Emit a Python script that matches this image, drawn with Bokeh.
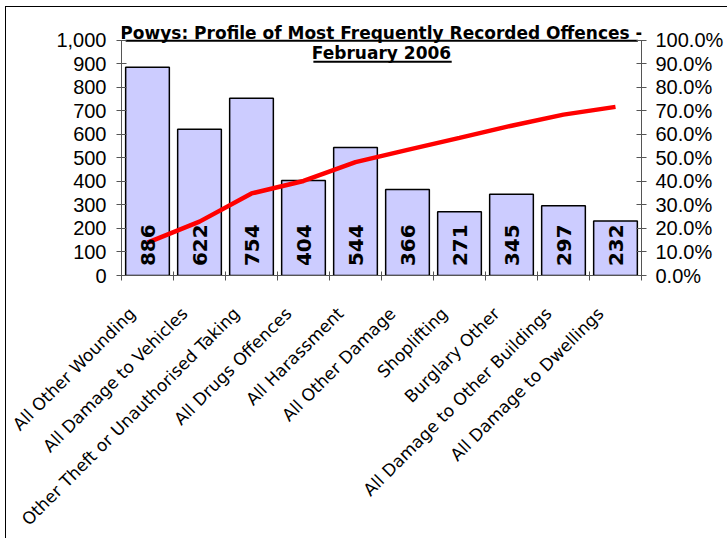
import math
from bokeh.plotting import figure
from bokeh.models import (Range1d, LinearAxis, FixedTicker, PrintfTickFormatter,
                          NumeralTickFormatter, Label, ColumnDataSource)
from bokeh.core.properties import value
from bokeh.embed import file_html
from bokeh.resources import INLINE

categories = ["All Other Wounding", "All Damage to Vehicles",
              "Other Theft or Unauthorised Taking", "All Drugs Offences",
              "All Harassment", "All Other Damage", "Shoplifting",
              "Burglary Other", "All Damage to Other Buildings",
              "All Damage to Dwellings"]
counts = [886, 622, 754, 404, 544, 366, 271, 345, 297, 232]
cum_pct = [14.0, 22.9, 34.9, 40.2, 48.2, 53.4, 58.5, 63.7, 68.4, 71.7]
left_ticks = [0, 100, 200, 300, 400, 500, 600, 700, 800, 900, 1000]
right_ticks = [0, 10, 20, 30, 40, 50, 60, 70, 80, 90, 100]
title_lines = ["Powys: Profile of Most Frequently Recorded Offences -", "February 2006"]

# title placement / underline decoration (layout constants)
title_y = [1029, 945]
underline_x0 = [0.08, 3.69]
underline_x1 = [9.93, 6.35]
underline_y = [998, 909]

n = len(categories)
xc = [i + 0.5 for i in range(n)]
label_shift = 0.29  # category labels sit slightly left of the category centre
xl = [x - label_shift for x in xc]

src = ColumnDataSource(dict(x=xc, counts=counts, pct=cum_pct,
                            lbl=[str(c) for c in counts],
                            base=[40] * n))

p = figure(width=722, height=532, output_backend="svg", toolbar_location=None,
           x_range=Range1d(0, n), y_range=Range1d(0, 1080),
           min_border_left=115, min_border_right=87, min_border_top=14,
           min_border_bottom=262, x_axis_location=None, y_axis_location=None)
p.outline_line_color = None
p.xgrid.visible = False
p.ygrid.visible = False
p.background_fill_color = "white"
p.border_fill_color = "white"
p.styles = {"margin-left": "5px", "margin-top": "6px",
            "border-left": "1px solid black", "border-top": "1px solid black"}

p.extra_y_ranges = {"pct": Range1d(0, 108)}

tick_font = "Liberation Sans"

# left axis
ly = LinearAxis(ticker=FixedTicker(ticks=left_ticks, minor_ticks=[]),
                formatter=NumeralTickFormatter(format="0,0"), bounds=(0, 1000))
ly.major_label_text_font = tick_font
ly.major_label_text_font_size = "20px"
ly.major_label_text_color = "black"
ly.axis_line_color = "#555555"
ly.major_tick_line_color = "#555555"
ly.major_tick_in = 5
ly.major_tick_out = 5
ly.major_label_standoff = 10
p.add_layout(ly, "left")

# right axis
ry = LinearAxis(y_range_name="pct",
                ticker=FixedTicker(ticks=right_ticks, minor_ticks=[]),
                formatter=PrintfTickFormatter(format="%.1f%%"), bounds=(0, 100))
ry.major_label_text_font = tick_font
ry.major_label_text_font_size = "20px"
ry.major_label_text_color = "black"
ry.axis_line_color = "#555555"
ry.major_tick_line_color = "#555555"
ry.major_tick_in = 5
ry.major_tick_out = 5
ry.major_label_standoff = 9
p.add_layout(ry, "right")

# bottom axis: labels near category centres, ticks at category boundaries
xa = LinearAxis(ticker=FixedTicker(ticks=xl, minor_ticks=list(range(n + 1))))
xa.major_label_overrides = {x: c for x, c in zip(xl, categories)}
xa.major_label_orientation = math.pi / 4
xa.major_label_text_font = "DejaVu Sans"
xa.major_label_text_font_size = "17px"
xa.major_label_text_color = "black"
xa.major_tick_in = 0
xa.major_tick_out = 0
xa.minor_tick_in = 4
xa.minor_tick_out = 5
xa.minor_tick_line_color = "#555555"
xa.axis_line_color = "#555555"
xa.major_label_standoff = 30
p.add_layout(xa, "below")

p.vbar(x="x", top="counts", width=0.84, source=src, fill_color="#CCCCFF",
       line_color="black", line_width=1.5)

p.line(x="x", y="pct", source=src, y_range_name="pct", line_color="#FF0000",
       line_width=4.5)

p.text(x="x", y="base", text="lbl", source=src, angle=math.pi / 2,
       text_align="left", text_baseline="middle",
       text_font=value("DejaVu Sans"), text_font_style="bold",
       text_font_size="20px", text_color="black")

for t, yv in zip(title_lines, title_y):
    p.add_layout(Label(x=n / 2, y=yv, text=t, text_align="center",
                       text_baseline="middle", text_font="DejaVu Sans",
                       text_font_style="bold", text_font_size="17px",
                       text_color="black"))
p.segment(x0=underline_x0, y0=underline_y, x1=underline_x1, y1=underline_y,
          line_color="black", line_width=2)

open("out.html", "w").write(file_html(p, INLINE))
